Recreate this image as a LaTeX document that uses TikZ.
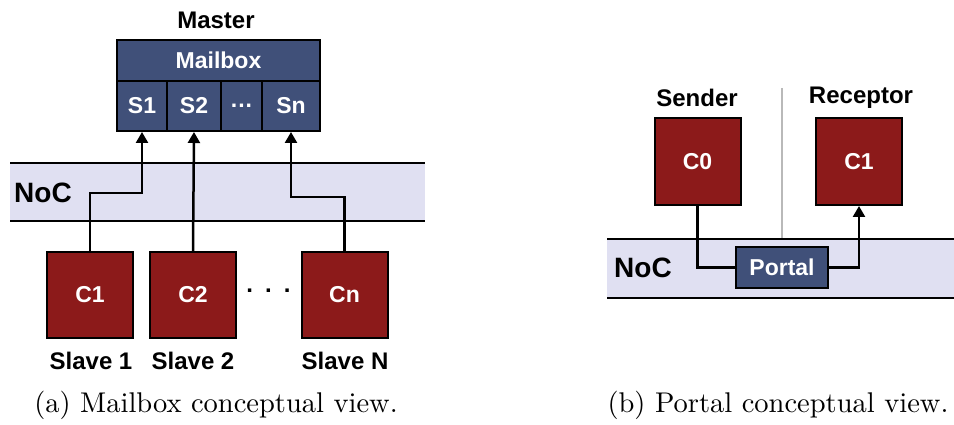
\documentclass[tikz,border=0pt]{standalone}
\usepackage{fontspec}
\newfontfamily\labfont{Liberation Sans}
\newfontfamily\capfont{lmroman10-regular.otf}
\usetikzlibrary{arrows.meta}
\definecolor{corered}{RGB}{140,26,26}
\definecolor{boxblue}{RGB}{64,80,121}
\definecolor{nocfill}{RGB}{224,224,242}
\definecolor{sepgray}{RGB}{185,185,185}
\tikzset{
  lab/.style={font=\labfont\bfseries\fontsize{24}{28}\selectfont, inner sep=0pt},
  nocband/.style={fill=nocfill, draw=none},
  bandline/.style={line width=2pt},
  core/.style={draw=black, line width=2pt, fill=corered, text=white,
    minimum width=86pt, minimum height=86pt, inner sep=0pt,
    font=\labfont\bfseries\fontsize{23}{28}\selectfont},
  cell/.style={draw=black, line width=2pt, fill=boxblue, text=white,
    minimum height=50pt, inner sep=0pt, anchor=north west,
    font=\labfont\bfseries\fontsize{23}{28}\selectfont},
  wire/.style={line width=2.5pt, draw=black},
  arr/.style={wire, -{Triangle[length=11pt, width=12pt]}},
  captext/.style={font=\capfont\fontsize{28.5}{34}\selectfont, inner sep=0pt}
}
\begin{document}
\begin{tikzpicture}[x=1pt, y=-1pt]
\useasboundingbox (0,0) rectangle (954,425);

% ---------- (a) mailbox ----------
% NoC band
\fill[nocband] (10,163) rectangle (425,221);
\draw[bandline] (10,163) -- (425,163) (10,221) -- (425,221);
\node[lab, anchor=west, font=\labfont\bfseries\fontsize{28}{32}\selectfont] (noca) at (14,193) {NoC};

% master mailbox
\node[lab] (master) at (216,20) {Master};
\node[cell, minimum width=203pt, minimum height=41pt] (mbox) at (116,39) {Mailbox};
\node[cell, minimum width=50pt] (s1) at (116,80) {S1};
\node[cell, minimum width=54pt] (s2) at (166,80) {S2};
\node[cell, minimum width=41pt] (sd) at (220,80) {.\kern1pt.\kern1pt.};
\node[cell, minimum width=58pt] (sn) at (261,80) {Sn};

% slave cores
\node[core] (c1) at (90,295) {C1};
\node[core] (c2) at (193,295) {C2};
\node[core] (cn) at (344.5,295) {Cn};
\node[font=\labfont\bfseries\fontsize{24}{28}\selectfont, inner sep=0pt] (dots) at (268.5,291) {.\,\,\,.\,\,\,.};
\node[lab] (sl1) at (91,361) {Slave 1};
\node[lab] (sl2) at (193,361) {Slave 2};
\node[lab] (sln) at (345,361) {Slave N};

% connections to the mailbox slots
\draw[arr] (c1.north) -- (c1.north |- 0,193) -| (s1.south);
\draw[arr] (c2.north) -- (s2.south);
\draw[arr] (cn.north) -- (cn.north |- 0,197) -| (sn.south);

\node[captext] (capa) at (216,405) {(a) Mailbox conceptual view.};

% ---------- (b) portal ----------
\fill[nocband] (607,239) rectangle (954,298);
\draw[bandline] (607,239) -- (954,239) (607,298) -- (954,298);
\node[lab, anchor=west, font=\labfont\bfseries\fontsize{28}{32}\selectfont] (nocb) at (614,268) {NoC};

\draw[sepgray, line width=1.5pt] (782,88) -- (782,238);

\node[lab] (sender) at (697,98) {Sender};
\node[lab] (receptor) at (861,98) {Receptor};
\node[core, minimum height=87pt] (c0) at (697.5,161.5) {C0};
\node[core, minimum height=87pt] (c1b) at (859,161.5) {C1};
\node[cell, anchor=center, minimum width=92pt, minimum height=41pt] (portal) at (782,267.5) {Portal};

\draw[wire] (c0.south) |- (portal.west);
\draw[arr] (portal.east) -| (c1b.south);

\node[captext] (capb) at (778,405) {(b) Portal conceptual view.};
\end{tikzpicture}
\end{document}
